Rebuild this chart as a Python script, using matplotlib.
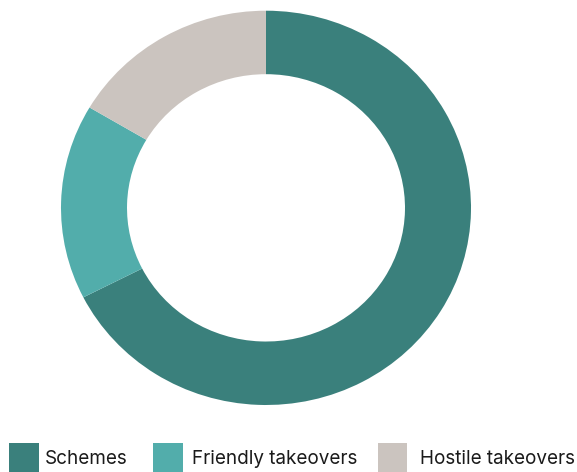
import matplotlib
matplotlib.use("Agg")
import matplotlib.pyplot as plt
from matplotlib.patches import Rectangle

labels = ["Schemes", "Friendly takeovers", "Hostile takeovers"]
values = [67.5, 16.0, 16.5]
colors = ["#3a807c", "#52adab", "#cbc4bf"]

W, H = 577, 472
fig = plt.figure(figsize=(W / 100, H / 100), dpi=100)

# donut axes, placed in pixel units
x0, x1, y0, y1 = 61, 471, 10.7, 405
ax = fig.add_axes([x0 / W, 1 - y1 / H, (x1 - x0) / W, (y1 - y0) / H])
ax.pie(values, colors=colors, startangle=90, counterclock=False,
       radius=1.0, wedgeprops=dict(width=0.322, linewidth=0))
ax.set_aspect("auto")
ax.set_xlim(-1, 1)
ax.set_ylim(-1, 1)
ax.axis("off")

# legend row along the bottom
sq_x = [9, 153, 377.5]
txt_x = [45, 192.5, 420.5]
sq = 29.5
for xs, xt, lab, c in zip(sq_x, txt_x, labels, colors):
    fig.patches.append(Rectangle((xs / W, 1 - 473 / H), sq / W, (473 - 443.3) / H,
                                 transform=fig.transFigure, facecolor=c,
                                 edgecolor="none"))
    fig.text(xt / W, 1 - 464.5 / H, lab, ha="left", va="baseline",
             fontsize=13.6, family="Inter", color="#1a1a1a")

fig.savefig("out.png", dpi=100)
